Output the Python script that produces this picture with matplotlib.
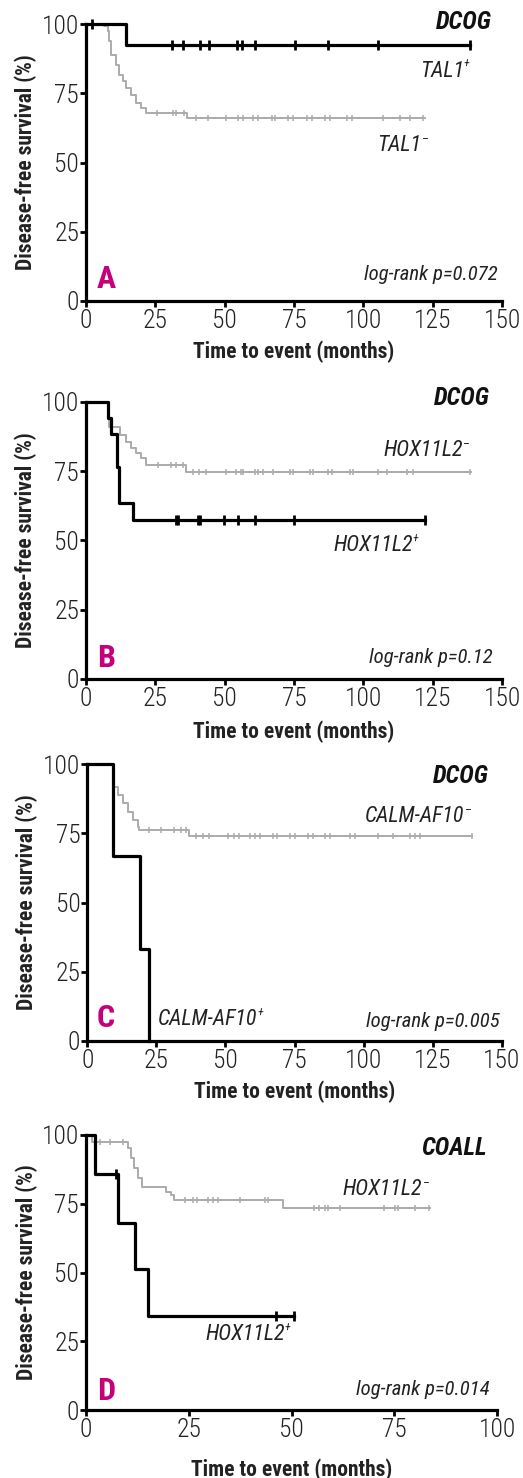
import numpy as np
import matplotlib
matplotlib.use('Agg')
from matplotlib import pyplot as plt
from matplotlib import font_manager

# pick a condensed face if one is installed, else Arial-like Liberation Sans
installed = {f.name for f in font_manager.fontManager.ttflist}
FONT = 'Liberation Sans'
for cand in ['Roboto Condensed', 'Liberation Sans Narrow', 'Arial Narrow', 'Nimbus Sans Narrow']:
    if cand in installed:
        FONT = cand
        break
fs = 1.0 if FONT == 'Liberation Sans' else 1.15
plt.rcParams['font.family'] = [FONT, 'DejaVu Sans']

# ---- data (months, % disease-free survival) ----
# Panel A, DCOG, TAL1
a_pos_t = [0, 14.3, 138.5]
a_pos_s = [100, 92.3, 92.3]
a_pos_cens = [2.0, 31.0, 35.0, 41.2, 44.2, 54.5, 56.3, 61.0, 75.2, 87.2, 105.3, 138.5]
a_neg_t = [0, 6.6, 7.8, 8.4, 9.0, 10.8, 12.0, 13.2, 14.4, 16.2, 18.0, 19.8, 21.6, 36.5, 122.3]
a_neg_s = [100, 99.2, 97.4, 93.7, 88.9, 85.3, 81.7, 79.3, 76.9, 74.5, 71.5, 69.7, 67.9, 66.0, 66.0]
a_neg_cens = [25.6, 31.4, 32.3, 35.5, 39.8, 44.0, 50.6, 54.8, 56.7, 60.3, 62.1, 67.0, 68.2,
              73.0, 74.8, 79.6, 81.4, 86.2, 88.0, 94.0, 95.8, 107.2, 113.2, 116.8, 121.6]

# Panel B, DCOG, HOX11L2
b_pos_t = [0, 8.0, 9.0, 11.1, 11.8, 16.9, 122.2]
b_pos_s = [100, 94.1, 88.2, 76.5, 63.5, 57.2, 57.2]
b_pos_cens = [32.3, 33.0, 40.4, 41.0, 49.8, 54.9, 60.9, 75.0, 122.2]
b_neg_t = [0, 8.4, 12.3, 14.4, 16.2, 18.0, 19.8, 21.6, 36.2, 139.0]
b_neg_s = [100, 91.0, 88.0, 85.6, 83.2, 81.4, 79.6, 77.2, 74.8, 74.8]
b_neg_cens = [25.8, 30.6, 32.5, 34.9, 38.5, 40.9, 43.3, 50.5, 54.1, 55.9, 56.7, 60.9, 62.1,
              63.9, 67.5, 73.6, 74.8, 80.8, 82.0, 87.4, 88.6, 95.2, 96.4, 105.4, 108.4,
              115.7, 118.0, 138.5]

# Panel C, DCOG, CALM-AF10
c_pos_t = [0, 9.2, 19.1, 22.3]
c_pos_s = [100, 66.7, 33.3, 0]
c_pos_cens = []
c_neg_t = [0, 9.2, 9.8, 11.0, 12.8, 14.6, 16.4, 18.2, 18.8, 36.7, 139.1]
c_neg_s = [100, 94.5, 91.8, 88.8, 85.8, 82.8, 79.8, 77.4, 76.1, 74.0, 74.0]
c_neg_cens = [22.4, 26.7, 31.5, 33.9, 35.7, 39.3, 41.7, 44.2, 50.8, 53.2, 55.0, 58.9, 60.7,
              62.5, 67.3, 68.5, 73.4, 75.2, 80.0, 81.8, 86.0, 87.8, 95.1, 96.9, 105.3,
              110.7, 116.8, 118.6, 120.4, 139.1]

# Panel D, COALL, HOX11L2
d_pos_t = [0, 2.2, 7.9, 11.9, 15.2, 50.5]
d_pos_s = [100, 85.8, 68.1, 51.2, 34.2, 34.2]
d_pos_cens = [7.2, 46.3, 50.5]
d_neg_t = [0, 1.4, 10.1, 11.0, 11.8, 12.6, 13.6, 19.5, 20.7, 21.5, 48.0, 83.8]
d_neg_s = [100, 97.6, 95.2, 91.5, 87.9, 84.2, 81.2, 79.4, 78.2, 76.4, 73.3, 73.3]
d_neg_cens = [3.4, 5.8, 9.1, 24.1, 26.1, 26.9, 29.8, 31.0, 32.2, 37.5, 43.6, 44.4, 55.4,
              56.6, 58.2, 59.0, 61.8, 72.4, 75.2, 76.0, 80.1, 83.4]

letters = ['A', 'B', 'C', 'D']
cohorts = ['DCOG', 'DCOG', 'DCOG', 'COALL']
genes = ['TAL1', 'HOX11L2', 'CALM-AF10', 'HOX11L2']
pvals = ['log-rank p=0.072', 'log-rank p=0.12', 'log-rank p=0.005', 'log-rank p=0.014']
xmax = [150, 150, 150, 100]

curves = [
    (a_pos_t, a_pos_s, a_pos_cens, a_neg_t, a_neg_s, a_neg_cens),
    (b_pos_t, b_pos_s, b_pos_cens, b_neg_t, b_neg_s, b_neg_cens),
    (c_pos_t, c_pos_s, c_pos_cens, c_neg_t, c_neg_s, c_neg_cens),
    (d_pos_t, d_pos_s, d_pos_cens, d_neg_t, d_neg_s, d_neg_cens),
]

# label positions (data coords): cohort, positive label, negative label, p-value, letter
label_pos = [
    dict(cohort=(146.1, 100.9), pos=(120.4, 83.0), neg=(104.9, 56.0), p=(148.6, 7.6), let=(4.0, 4.7)),
    dict(cohort=(145.7, 101.5), pos=(89.1, 48.1), neg=(107.1, 82.4), p=(146.8, 5.8), let=(4.0, 4.3)),
    dict(cohort=(145.4, 95.5), pos=(25.6, 7.8), neg=(100.5, 81.0), p=(149.4, 5.2), let=(3.5, 5.1)),
    dict(cohort=(97.6, 95.1), pos=(29.0, 27.5), neg=(62.3, 80.2), p=(98.3, 5.5), let=(2.7, 3.6)),
]

W, H = 523, 1478
rects = [(86, 24, 416, 277), (86, 401.7, 416, 277.3), (87.3, 764, 414.4, 277), (86, 1135, 411, 275)]
xlab_y = [-0.141, -0.148, -0.141, -0.175]

GRAY = '#ababab'
MAGENTA = '#c4007c'
INK = '#222222'

fig = plt.figure(figsize=(W / 100, H / 100), dpi=100)


def step_at(t, s, x):
    i = np.searchsorted(t, x, side='right') - 1
    return np.asarray(s)[np.clip(i, 0, len(s) - 1)]


def gene_label(ax, xy, name, sup):
    t = ax.text(xy[0], xy[1], name, fontsize=13.8 * fs, style='italic', ha='left',
                va='center', color=INK)
    ax.annotate(sup, xy=(1, 0.8), xycoords=t, fontsize=7.5 * fs, style='italic',
                ha='left', va='center', color=INK)


for k in range(4):
    x0, top, w, h = rects[k]
    ax = fig.add_axes([x0 / W, 1 - (top + h) / H, w / W, h / H])
    pt, ps, pc, nt, ns, nc = curves[k]

    # negative group (gray) under positive group (black)
    ax.step(nt, ns, where='post', color=GRAY, lw=1.4, clip_on=False, zorder=2)
    ax.plot(nc, step_at(nt, ns, nc), ls='none', marker='|', ms=5, mew=1.1,
            color=GRAY, clip_on=False, zorder=2)
    ax.step(pt, ps, where='post', color='black', lw=2.3, clip_on=False, zorder=3)
    if len(pc):
        ax.plot(pc, step_at(pt, ps, pc), ls='none', marker='|', ms=6.5, mew=2.0,
                color='black', clip_on=False, zorder=3)

    ax.set_xlim(0, xmax[k])
    ax.set_ylim(0, 100)
    ax.set_xticks(np.arange(0, xmax[k] + 1, 25))
    ax.set_yticks([0, 25, 50, 75, 100])
    for s in ['top', 'right']:
        ax.spines[s].set_visible(False)
    for s in ['left', 'bottom']:
        ax.spines[s].set_linewidth(2.3)
        ax.spines[s].set_capstyle('projecting')
    ax.tick_params(direction='out', length=4, width=2, labelsize=16 * fs, colors='black')
    ax.tick_params(axis='y', pad=1)
    ax.tick_params(axis='x', pad=2)
    for lab in ax.get_xticklabels() + ax.get_yticklabels():
        lab.set_color(INK)
        lab.set_fontweight('light')

    ax.text(0.5, xlab_y[k], 'Time to event (months)', transform=ax.transAxes,
            fontsize=13.5 * fs, fontweight='bold', ha='center', va='top', color=INK)
    ax.text(-0.145, 0.5, 'Disease-free survival (%)', transform=ax.transAxes,
            rotation=90, fontsize=13.5 * fs, fontweight='bold', ha='center', va='center',
            color=INK)

    lp = label_pos[k]
    ax.text(*lp['cohort'], cohorts[k], fontsize=15.5 * fs, fontweight='bold', style='italic',
            ha='right', va='center', color='#111111')
    gene_label(ax, lp['pos'], genes[k], '+')
    gene_label(ax, lp['neg'], genes[k], '\u2013')
    ax.text(*lp['p'], pvals[k], fontsize=13 * fs, style='italic', ha='right', va='baseline',
            color=INK)
    ax.text(*lp['let'], letters[k], fontsize=20 * fs, fontweight='bold', ha='left',
            va='baseline', color=MAGENTA)

fig.savefig('out.png', dpi=100)
